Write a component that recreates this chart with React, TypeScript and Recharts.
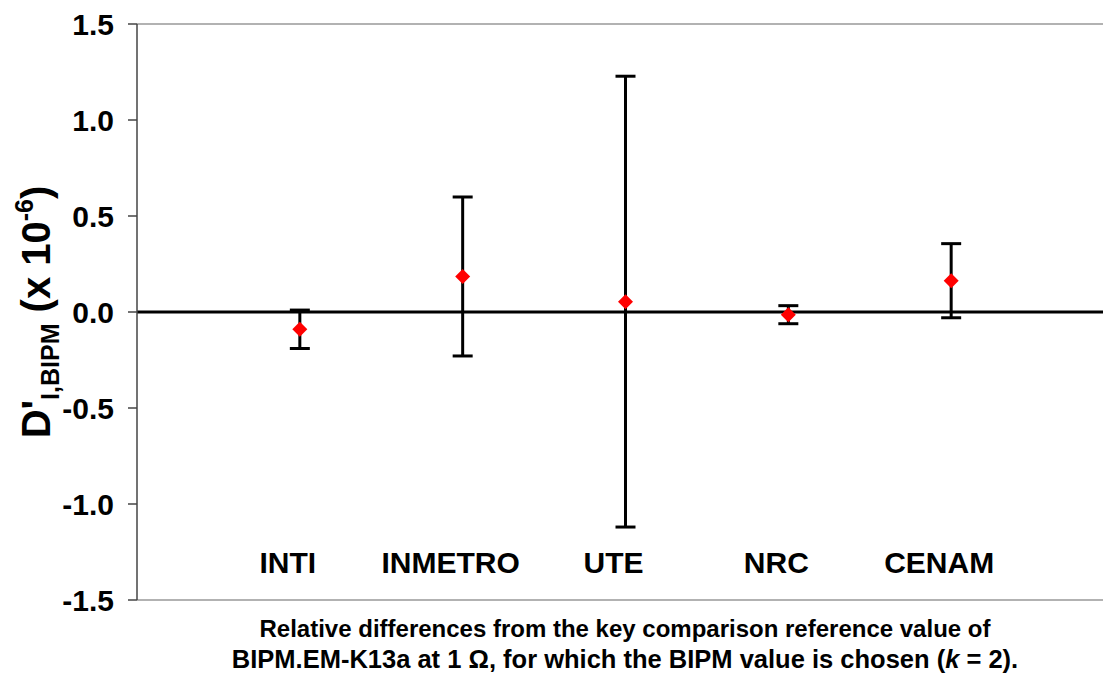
import React from 'react';
import {
  ComposedChart, Scatter, XAxis, YAxis, ErrorBar, ReferenceLine,
} from 'recharts';

const labs = ['INTI', 'INMETRO', 'UTE', 'NRC', 'CENAM'];
const pos = [1, 2, 3, 4, 5];
const values = [-0.09, 0.185, 0.054, -0.014, 0.163];
const errs = [0.1, 0.414, 1.174, 0.047, 0.193];
const yTicks = [-1.5, -1.0, -0.5, 0.0, 0.5, 1.0, 1.5];
const labelLevel = -1.36;

const data = labs.map((name, i) => ({ name, x: pos[i], y: values[i], err: errs[i] }));
const nameRow = labs.map((name, i) => ({ name, x: pos[i], y: labelLevel }));

const font = 'Arial, "Liberation Sans", sans-serif';

const Diamond = (p: any) => {
  const { cx, cy } = p;
  const r = 7.5;
  return <polygon points={`${cx},${cy - r} ${cx + r},${cy} ${cx},${cy + r} ${cx - r},${cy}`} fill="#ff0000" />;
};

const NameText = (p: any) => (
  <text x={p.cx - 12} y={p.cy} textAnchor="middle" fontFamily={font} fontWeight="bold" fontSize={30} fill="#000">
    {p.payload.name}
  </text>
);

const YLabel = () => {
  const x = 50;
  const y = 312;
  return (
    <text x={x} y={y} transform={`rotate(-90, ${x}, ${y})`} textAnchor="middle" fontFamily={font} fontWeight="bold" fill="#000">
      <tspan fontSize={40}>D'</tspan>
      <tspan fontSize={25} dy={9}>I,BIPM</tspan>
      <tspan fontSize={40} dy={-9}> (x 10</tspan>
      <tspan fontSize={25} dy={-17}>-6</tspan>
      <tspan fontSize={40} dy={17}>)</tspan>
    </text>
  );
};

export default function App() {
  return (
    <div style={{ position: 'absolute', left: 0, top: 0, width: 1103, height: 677, overflow: 'hidden', background: '#fff' }}>
      <ComposedChart width={1124} height={677} margin={{ top: 24, right: 10, bottom: 77, left: 0 }}>
        <XAxis type="number" dataKey="x" domain={[0, 6]} hide />
        <YAxis
          type="number"
          dataKey="y"
          width={137}
          domain={[-1.5, 1.5]}
          ticks={yTicks}
          tickFormatter={(v: number) => v.toFixed(1)}
          tickSize={9}
          tickMargin={14}
          stroke="#444"
          strokeWidth={1.5}
          tick={{ fontFamily: font, fontWeight: 'bold', fontSize: 30, fill: '#000' }}
          label={{ content: () => <YLabel /> }}
        />
        <ReferenceLine y={1.5} stroke="#999" strokeWidth={1.5} />
        <ReferenceLine y={-1.5} stroke="#999" strokeWidth={1.5} />
        <ReferenceLine y={0} stroke="#000" strokeWidth={3} />
        <Scatter data={data} dataKey="y" shape={<Diamond />} isAnimationActive={false}>
          <ErrorBar dataKey="err" direction="y" width={10} stroke="#000" strokeWidth={3} />
        </Scatter>
        <Scatter data={nameRow} dataKey="y" shape={<NameText />} isAnimationActive={false} />
      </ComposedChart>
      <div style={{ position: 'absolute', left: 0, width: 1250, top: 614, textAlign: 'center', fontFamily: font, fontWeight: 'bold', fontSize: 24, lineHeight: '30px', color: '#000' }}>
        <div>Relative differences from the key comparison reference value of</div>
        <div style={{ fontSize: 25.5 }}>
          BIPM.EM-K13a at 1 Ω, for which the BIPM value is chosen (<i>k</i> = 2).
        </div>
      </div>
    </div>
  );
}
